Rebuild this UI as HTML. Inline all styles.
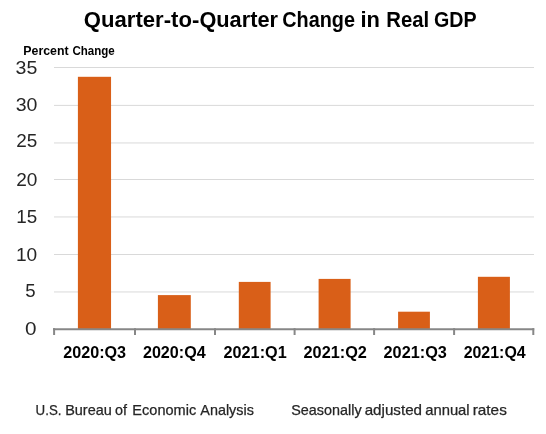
<!DOCTYPE html>
<html><head><meta charset="utf-8">
<style>
html,body{margin:0;padding:0;background:#fff;width:546px;height:434px;overflow:hidden;}
svg{display:block;will-change:transform;}
text{font-family:"Liberation Sans", sans-serif;}
</style></head>
<body>
<svg width="546" height="434" viewBox="0 0 546 434">
<rect x="0" y="0" width="546" height="434" fill="#fff"/>

<g stroke="#d9d9d9" stroke-width="1">
<line x1="54" y1="67.50" x2="534" y2="67.50"/>
<line x1="54" y1="105.40" x2="534" y2="105.40"/>
<line x1="54" y1="142.95" x2="534" y2="142.95"/>
<line x1="54" y1="179.50" x2="534" y2="179.50"/>
<line x1="54" y1="216.95" x2="534" y2="216.95"/>
<line x1="54" y1="254.50" x2="534" y2="254.50"/>
<line x1="54" y1="291.95" x2="534" y2="291.95"/>
</g>
<g fill="#d95f18">
<rect x="77.90" y="76.80" width="33.15" height="252.35"/>
<rect x="157.90" y="295.10" width="32.90" height="34.05"/>
<rect x="238.80" y="281.90" width="31.80" height="47.25"/>
<rect x="318.60" y="278.90" width="32.00" height="50.25"/>
<rect x="398.10" y="311.70" width="31.80" height="17.45"/>
<rect x="477.90" y="276.80" width="32.00" height="52.35"/>
</g>
<g stroke="#878787" stroke-width="2" fill="none">
<line x1="53" y1="329.15" x2="534.2" y2="329.15"/>
<line x1="54.10" y1="328.15" x2="54.10" y2="335"/>
<line x1="135.00" y1="328.15" x2="135.00" y2="335"/>
<line x1="215.00" y1="328.15" x2="215.00" y2="335"/>
<line x1="294.60" y1="328.15" x2="294.60" y2="335"/>
<line x1="374.10" y1="328.15" x2="374.10" y2="335"/>
<line x1="454.10" y1="328.15" x2="454.10" y2="335"/>
<line x1="533.30" y1="328.15" x2="533.30" y2="335"/>
</g>
<text x="83.83" y="26.60" font-size="22" font-weight="bold" fill="#000" textLength="115.50" lengthAdjust="spacingAndGlyphs">Quarter-to-</text>
<text x="199.39" y="26.60" font-size="22" font-weight="bold" fill="#000" textLength="78.64" lengthAdjust="spacingAndGlyphs">Quarter</text>
<text x="282.27" y="26.60" font-size="22" font-weight="bold" fill="#000" textLength="72.72" lengthAdjust="spacingAndGlyphs">Change</text>
<text x="360.46" y="26.60" font-size="22" font-weight="bold" fill="#000" textLength="19.46" lengthAdjust="spacingAndGlyphs">in</text>
<text x="386.32" y="26.60" font-size="22" font-weight="bold" fill="#000" textLength="42.88" lengthAdjust="spacingAndGlyphs">Real</text>
<text x="433.99" y="26.60" font-size="22" font-weight="bold" fill="#000" textLength="42.63" lengthAdjust="spacingAndGlyphs">GDP</text>
<text x="23.34" y="54.80" font-size="12.9" font-weight="bold" fill="#000" textLength="45.30" lengthAdjust="spacingAndGlyphs">Percent</text>
<text x="72.42" y="54.80" font-size="12.9" font-weight="bold" fill="#000" textLength="42.34" lengthAdjust="spacingAndGlyphs">Change</text>
<text x="63.20" y="357.80" font-size="16.2" font-weight="bold" fill="#000" textLength="62.91" lengthAdjust="spacingAndGlyphs">2020:Q3</text>
<text x="142.93" y="357.80" font-size="16.2" font-weight="bold" fill="#000" textLength="62.76" lengthAdjust="spacingAndGlyphs">2020:Q4</text>
<text x="223.57" y="357.80" font-size="16.2" font-weight="bold" fill="#000" textLength="63.10" lengthAdjust="spacingAndGlyphs">2021:Q1</text>
<text x="303.56" y="357.80" font-size="16.2" font-weight="bold" fill="#000" textLength="63.36" lengthAdjust="spacingAndGlyphs">2021:Q2</text>
<text x="383.56" y="357.80" font-size="16.2" font-weight="bold" fill="#000" textLength="63.32" lengthAdjust="spacingAndGlyphs">2021:Q3</text>
<text x="463.64" y="357.80" font-size="16.2" font-weight="bold" fill="#000" textLength="62.08" lengthAdjust="spacingAndGlyphs">2021:Q4</text>
<text x="35.59" y="414.90" font-size="14.2" font-weight="normal" fill="#262626" stroke="#262626" stroke-width="0.25" textLength="25.89" lengthAdjust="spacingAndGlyphs">U.S.</text>
<text x="65.16" y="414.90" font-size="14.2" font-weight="normal" fill="#262626" stroke="#262626" stroke-width="0.25" textLength="46.63" lengthAdjust="spacingAndGlyphs">Bureau</text>
<text x="115.12" y="414.90" font-size="14.2" font-weight="normal" fill="#262626" stroke="#262626" stroke-width="0.25" textLength="12.01" lengthAdjust="spacingAndGlyphs">of</text>
<text x="132.37" y="414.90" font-size="14.2" font-weight="normal" fill="#262626" stroke="#262626" stroke-width="0.25" textLength="63.84" lengthAdjust="spacingAndGlyphs">Economic</text>
<text x="200.31" y="414.90" font-size="14.2" font-weight="normal" fill="#262626" stroke="#262626" stroke-width="0.25" textLength="53.55" lengthAdjust="spacingAndGlyphs">Analysis</text>
<text x="291.22" y="414.90" font-size="14.2" font-weight="normal" fill="#262626" stroke="#262626" stroke-width="0.25" textLength="70.37" lengthAdjust="spacingAndGlyphs">Seasonally</text>
<text x="364.70" y="414.90" font-size="14.2" font-weight="normal" fill="#262626" stroke="#262626" stroke-width="0.25" textLength="57.33" lengthAdjust="spacingAndGlyphs">adjusted</text>
<text x="425.18" y="414.90" font-size="14.2" font-weight="normal" fill="#262626" stroke="#262626" stroke-width="0.25" textLength="44.47" lengthAdjust="spacingAndGlyphs">annual</text>
<text x="472.68" y="414.90" font-size="14.2" font-weight="normal" fill="#262626" stroke="#262626" stroke-width="0.25" textLength="34.15" lengthAdjust="spacingAndGlyphs">rates</text>
<text x="15.61" y="73.99" font-size="18.405143716766112" font-weight="normal" fill="#262626" textLength="21.73" lengthAdjust="spacingAndGlyphs">35</text>
<text x="15.70" y="111.41" font-size="18.405143716766112" font-weight="normal" fill="#262626" textLength="21.73" lengthAdjust="spacingAndGlyphs">30</text>
<text x="16.19" y="147.27" font-size="18.03566572326748" font-weight="normal" fill="#262626" textLength="21.06" lengthAdjust="spacingAndGlyphs">25</text>
<text x="16.23" y="185.99" font-size="18.405143716766112" font-weight="normal" fill="#262626" textLength="21.18" lengthAdjust="spacingAndGlyphs">20</text>
<text x="16.25" y="222.55" font-size="17.498269068286774" font-weight="normal" fill="#262626" textLength="20.93" lengthAdjust="spacingAndGlyphs">15</text>
<text x="16.01" y="260.99" font-size="18.40514371676544" font-weight="normal" fill="#262626" textLength="21.25" lengthAdjust="spacingAndGlyphs">10</text>
<text x="25.31" y="297.34" font-size="18.05" font-weight="normal" fill="#262626" textLength="10.34" lengthAdjust="spacingAndGlyphs">5</text>
<text x="25.08" y="334.99" font-size="18.40514371676544" font-weight="normal" fill="#262626" textLength="11.50" lengthAdjust="spacingAndGlyphs">0</text>
</svg>
</body></html>
